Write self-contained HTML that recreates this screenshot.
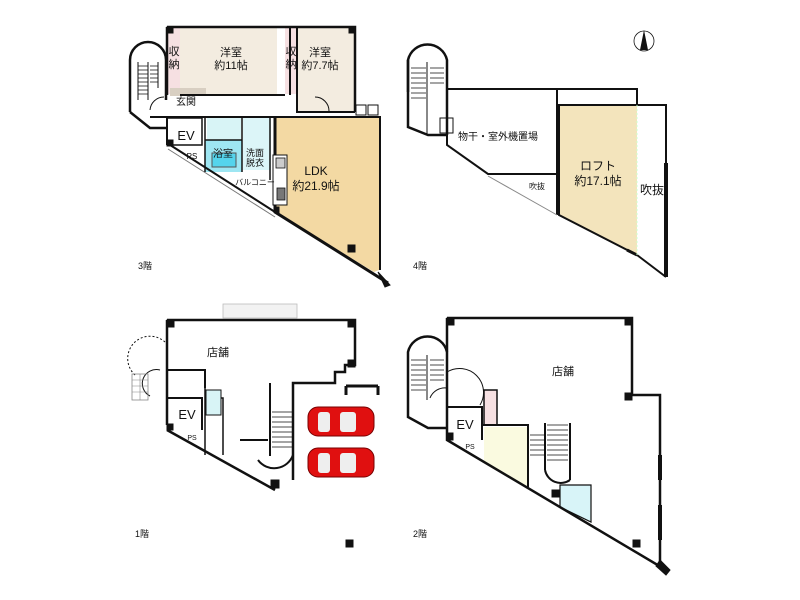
<!DOCTYPE html>
<html><head><meta charset="utf-8"><style>
html,body{margin:0;padding:0;background:#fff;}
svg{display:block;font-family:"Liberation Sans","Noto Sans CJK JP",sans-serif;}
</style></head><body>
<svg width="800" height="600" viewBox="0 0 800 600" xmlns="http://www.w3.org/2000/svg">
<!-- ================= 3F ================= -->
<g stroke="#111" fill="none">
  <!-- room fills -->
  <rect x="180" y="28" width="97" height="66" fill="#f3ece0" stroke="none"/>
  <rect x="297" y="28" width="58" height="84" fill="#f3ece0" stroke="none"/>
  <rect x="168" y="28" width="12" height="66" fill="#f6e0e2" stroke="none"/>
  <rect x="285" y="28" width="12" height="66" fill="#f6e0e2" stroke="none"/>
  <rect x="170" y="88" width="36" height="8" fill="#d8cfc2" stroke="none"/>
  <rect x="207" y="118" width="34" height="22" fill="#d8f4f6" stroke="none"/>
  <rect x="205" y="140" width="37" height="32" fill="#9ee6f2" stroke="none"/>
  <rect x="212" y="153" width="24" height="14" fill="#55d4ec" stroke="#555" stroke-width="1"/>
  <rect x="243" y="117" width="28" height="53" fill="#dcf5f8" stroke="none"/>
  <polygon points="275,118 379,118 379,270 374,272 275,212" fill="#f3d9a3" stroke="none"/>
  <!-- walls -->
  <path d="M167,27 H355 V112" stroke-width="2.5"/>
  <path d="M167,27 V95" stroke-width="2.5"/>
  <path d="M290,28 V95 M297,28 V112 H355" stroke-width="2"/>
  <path d="M180,95 H285" stroke-width="2"/>
  <path d="M150,117 H275 M275,117 H380 V270" stroke-width="2"/>
  <path d="M167,118 V145 M167,143 L275,212" stroke-width="2"/>
  <path d="M168,145 L275,213" stroke-width="1" transform="translate(0,4)" stroke="#777"/>
  <path d="M275,117 V212 L388,283" stroke-width="3"/>
  <path d="M167,118 H202 V145 H167" stroke-width="1.5"/>
  <path d="M205,118 V172 M205,140 H242 M242,117 V172 M270,117 V180" stroke-width="1.5"/>
  <rect x="273" y="155" width="14" height="50" fill="#fff" stroke-width="1"/>
  <rect x="276" y="158" width="9" height="10" fill="#ccc" stroke-width="0.8"/>
  <rect x="277" y="188" width="8" height="12" fill="#777" stroke-width="0.8"/>
  <rect x="356" y="105" width="10" height="10" fill="#fff" stroke-width="1"/>
  <rect x="368" y="105" width="10" height="10" fill="#fff" stroke-width="1"/>
  <!-- stairs -->
  <path d="M130,112 V60 A18,18 0 0 1 166,60 V100" stroke-width="2.5"/>
  <path d="M130,112 L150,128 H167" stroke-width="2.5"/>
  <path d="M138,62 V100 M148,62 V100 M158,62 V88" stroke-width="1"/>
  <g stroke-width="0.8">
    <path d="M138,66 H148 M138,70 H148 M138,74 H148 M138,78 H148 M138,82 H148 M138,86 H148 M138,90 H148 M138,94 H148"/>
    <path d="M150,66 H158 M150,70 H158 M150,74 H158 M150,78 H158 M150,82 H158"/>
  </g>
  <path d="M150,110 A14,14 0 0 1 164,97" stroke-width="1"/>
  <path d="M315,97 A14,14 0 0 1 329,111" stroke-width="1"/>
  <!-- columns -->
  <rect x="167" y="27" width="6" height="6" fill="#111"/>
  <rect x="349" y="27" width="6" height="6" fill="#111"/>
  <rect x="167" y="140" width="6" height="6" fill="#111"/>
  <rect x="348" y="245" width="7" height="7" fill="#111"/>
  <rect x="275" y="207" width="4" height="6" fill="#111"/>
  <path d="M378,272 L390,285 L385,287 Z" fill="#111"/>
</g>
<g font-size="11" fill="#111" text-anchor="middle">
  <text x="231" y="56">洋室</text><text x="231" y="69">約11帖</text>
  <text x="174" y="55">収</text><text x="174" y="68">納</text>
  <text x="291" y="55">収</text><text x="291" y="68">納</text>
  <text x="320" y="56">洋室</text><text x="320" y="69">約7.7帖</text>
  <text x="186" y="105" font-size="10">玄関</text>
  <text x="186" y="140" font-size="13">EV</text>
  <text x="223" y="157" font-size="10">浴室</text>
  <text x="255" y="156" font-size="9">洗面</text><text x="255" y="166" font-size="9">脱衣</text>
  <text x="192" y="159" font-size="8">PS</text>
  <text x="255" y="185" font-size="8">バルコニー</text>
  <text x="316" y="175" font-size="12">LDK</text><text x="316" y="190" font-size="12">約21.9帖</text>
  <text x="145" y="269" font-size="9">3階</text>
</g>

<!-- ================= 4F ================= -->
<g stroke="#111" fill="none">
  <polygon points="559,105 637,105 637,255 559,215" fill="#f3e4bc" stroke="none"/>
  <path d="M408,92 V60 A20,20 0 0 1 447,60 V135" stroke-width="2.5"/>
  <path d="M408,60 V127 L428,135 H447" stroke-width="2.5"/>
  <path d="M427,62 V135" stroke-width="1"/>
  <g stroke-width="0.8"><path d="M411,68 H426 M411,73 H426 M411,78 H426 M411,83 H426 M411,88 H426 M411,93 H426 M411,98 H426 M430,68 H444 M430,73 H444 M430,78 H444 M430,83 H444"/></g>
  <rect x="440" y="118" width="13" height="15" stroke-width="1"/>
  <path d="M447,89 H557 V215 M447,135 V145 L488,174 H557" stroke-width="2"/>
  <path d="M488,176 L557,215" stroke-width="1" stroke="#888"/>
  <path d="M557,89 H637 V105 M557,105 H666 V277" stroke-width="2"/>
  <path d="M559,105 V215 L637,255" stroke-width="2"/>
  <path d="M666,163 V277" stroke-width="4"/>
  <path d="M637,255 L666,277" stroke-width="2"/>
  <path d="M627,250 L637,255" stroke-width="3"/>
  <path d="M637,105 V255" stroke="#cfc" stroke-dasharray="2,2" stroke-width="1"/>
  <!-- compass -->
  <circle cx="644" cy="41" r="10" stroke-width="0.8"/>
  <polygon points="644,30 640,50 648,50" fill="#111" stroke="none"/>
</g>
<g font-size="10" fill="#111" text-anchor="middle">
  <text x="498" y="140">物干・室外機置場</text>
  <text x="537" y="189" font-size="8">吹抜</text>
  <text x="598" y="170" font-size="12">ロフト</text><text x="598" y="185" font-size="12">約17.1帖</text>
  <text x="652" y="194" font-size="12">吹抜</text>
  <text x="420" y="269" font-size="9">4階</text>
</g>

<!-- ================= 1F ================= -->
<g stroke="#111" fill="none">
  <rect x="223" y="304" width="74" height="14" fill="#f2f2f2" stroke="#bbb" stroke-width="0.8"/>
  <path d="M167,320 H355 V365 H345 V372 H335 V383 H293 V480" stroke-width="2.5"/>
  <path d="M167,320 V425" stroke-width="2.5"/>
  <path d="M167,370 H205 V388 M167,398 H202 V430 M202,398 V430" stroke-width="2"/>
  <path d="M205,388 V455 M205,398 H223 V455" stroke-width="1.5"/>
  <rect x="206" y="390" width="15" height="25" fill="#d8f4f6" stroke-width="1"/>
  <path d="M167,430 L275,490" stroke-width="2.5"/>
  <path d="M270,383 V456 M240,440 H268 M293,455 A20,20 0 0 1 258,460" stroke-width="2"/>
  <g stroke-width="0.8"><path d="M272,412 H292 M272,417 H292 M272,422 H292 M272,427 H292 M272,432 H292 M272,437 H292 M272,442 H292 M272,447 H292"/></g>
  <path d="M160,370 A14,14 0 0 0 150,396" stroke-width="1"/>
  <path d="M135,375 A18,18 0 1 1 165,342" stroke-dasharray="2,2" stroke-width="1"/>
  <rect x="132" y="374" width="16" height="26" stroke="#888" stroke-width="0.8"/>
  <g stroke="#888" stroke-width="0.6"><path d="M132,380 H148 M132,386 H148 M132,392 H148 M140,374 V400"/></g>
  <rect x="167" y="320" width="7" height="7" fill="#111"/>
  <rect x="348" y="320" width="7" height="7" fill="#111"/>
  <rect x="348" y="360" width="7" height="7" fill="#111"/>
  <rect x="167" y="424" width="6" height="6" fill="#111"/>
  <rect x="271" y="480" width="8" height="8" fill="#111"/>
  <rect x="346" y="540" width="7" height="7" fill="#111"/>
  <path d="M346,386 H378 M346,386 V395 M378,386 V395" stroke-width="3"/>
</g>
<!-- cars -->
<g>
  <rect x="308" y="407" width="66" height="29" rx="10" fill="#e01010" stroke="#700" stroke-width="1"/>
  <rect x="318" y="412" width="12" height="20" rx="3" fill="#eee"/>
  <rect x="340" y="412" width="16" height="20" rx="3" fill="#eee"/>
  <rect x="308" y="448" width="66" height="29" rx="10" fill="#e01010" stroke="#700" stroke-width="1"/>
  <rect x="318" y="453" width="12" height="20" rx="3" fill="#eee"/>
  <rect x="340" y="453" width="16" height="20" rx="3" fill="#eee"/>
</g>
<g font-size="11" fill="#111" text-anchor="middle">
  <text x="218" y="356">店舗</text>
  <text x="187" y="419" font-size="13">EV</text>
  <text x="192" y="440" font-size="7">PS</text>
  <text x="142" y="537" font-size="9">1階</text>
</g>

<!-- ================= 2F ================= -->
<g stroke="#111" fill="none">
  <polygon points="484,427 528,427 528,487 484,462" fill="#fafae0" stroke="none"/>
  <rect x="484" y="390" width="13" height="35" fill="#f6e0e2" stroke-width="1.5"/>
  <polygon points="560,485 591,485 591,522 560,507" fill="#d8f4f8" stroke-width="1.2"/>
  <path d="M447,318 H632 V395 H660 V565" stroke-width="2.5"/>
  <path d="M447,318 V440 L666,570" stroke-width="2.5"/>
  <path d="M408,388 V352 A20,20 0 0 1 447,352 M408,388 V417 L428,428 H447" stroke-width="2.5"/>
  <path d="M427,355 V400" stroke-width="1"/>
  <g stroke-width="0.8"><path d="M411,360 H426 M411,365 H426 M411,370 H426 M411,375 H426 M411,380 H426 M411,385 H426 M411,390 H426 M430,360 H444 M430,365 H444 M430,370 H444 M430,375 H444 M430,380 H444"/></g>
  <path d="M447,407 H482 V440 M447,407 V440" stroke-width="2"/>
  <path d="M482,425 H528 V487" stroke-width="2"/>
  <path d="M545,423 V470 M570,423 V480 M545,470 A16,16 0 0 0 570,480" stroke-width="2"/>
  <g stroke-width="0.8"><path d="M530,435 H545 M530,440 H545 M530,445 H545 M530,450 H545 M530,455 H545 M547,425 H568 M547,430 H568 M547,435 H568 M547,440 H568 M547,445 H568 M547,450 H568 M547,455 H568 M547,460 H568"/></g>
  <path d="M430,398 A16,16 0 0 1 447,388 M447,372 A24,24 0 0 1 480,405" stroke-width="1"/>
  <rect x="447" y="318" width="7" height="7" fill="#111"/>
  <rect x="625" y="318" width="7" height="7" fill="#111"/>
  <rect x="625" y="393" width="7" height="7" fill="#111"/>
  <rect x="447" y="433" width="6" height="7" fill="#111"/>
  <rect x="552" y="490" width="7" height="7" fill="#111"/>
  <rect x="633" y="540" width="7" height="7" fill="#111"/>
  <path d="M660,560 L670,570 L666,575 L656,566 Z" fill="#111"/>
  <path d="M660,455 V480 M660,505 V540" stroke-width="4"/>
</g>
<g font-size="11" fill="#111" text-anchor="middle">
  <text x="563" y="375">店舗</text>
  <text x="465" y="429" font-size="13">EV</text>
  <text x="470" y="449" font-size="7">PS</text>
  <text x="420" y="537" font-size="9">2階</text>
</g>
</svg>
</body></html>
